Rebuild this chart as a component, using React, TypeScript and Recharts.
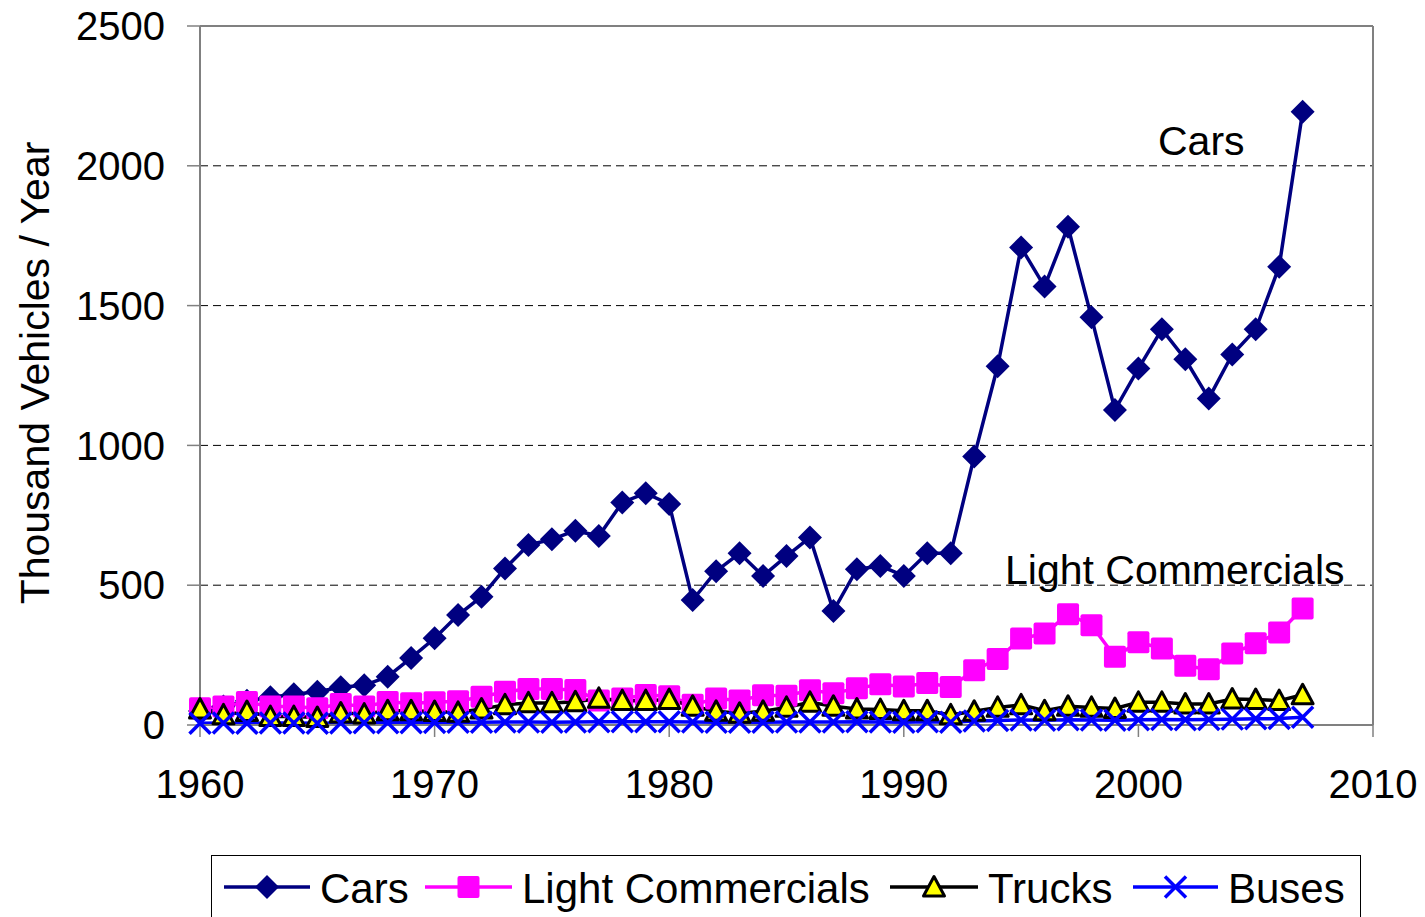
import React from 'react';
import { LineChart, Line, XAxis, YAxis, CartesianGrid, ReferenceLine } from 'recharts';

const years = [
  1960, 1961, 1962, 1963, 1964, 1965, 1966, 1967, 1968, 1969,
  1970, 1971, 1972, 1973, 1974, 1975, 1976, 1977, 1978, 1979,
  1980, 1981, 1982, 1983, 1984, 1985, 1986, 1987, 1988, 1989,
  1990, 1991, 1992, 1993, 1994, 1995, 1996, 1997, 1998, 1999,
  2000, 2001, 2002, 2003, 2004, 2005, 2006, 2007,
];

const cars = [
  50, 66, 87, 99, 110, 119, 135, 142, 173, 240,
  310, 393, 459, 560, 644, 664, 695, 676, 796, 829,
  790, 447, 550, 614, 533, 604, 671, 408, 557, 569,
  533, 614, 614, 960, 1283, 1708, 1568, 1782, 1458, 1127,
  1275, 1415, 1308, 1168, 1325, 1415, 1639, 2193,
];

const lightCommercials = [
  60, 66, 82, 66, 66, 60, 75, 66, 82, 78,
  81, 85, 101, 119, 129, 129, 125, 88, 95, 107,
  103, 72, 95, 88, 106, 105, 124, 114, 131, 146,
  138, 150, 136, 196, 236, 309, 327, 396, 357, 244,
  296, 274, 212, 199, 256, 292, 331, 417,
];

const trucks = [
  57, 36, 48, 30, 30, 27, 43, 39, 51, 51,
  48, 45, 57, 72, 79, 79, 83, 95, 87, 87,
  91, 67, 49, 42, 49, 63, 81, 67, 57, 55,
  51, 51, 36, 49, 63, 72, 51, 67, 63, 59,
  81, 81, 75, 75, 93, 91, 87, 108,
];

const buses = [
  6, 7, 6, 7, 7, 6, 7, 8, 8, 8,
  9, 10, 10, 11, 11, 10, 11, 12, 12, 12,
  12, 11, 10, 10, 10, 11, 11, 11, 12, 11,
  10, 12, 10, 14, 16, 18, 17, 19, 18, 17,
  19, 20, 19, 20, 21, 22, 23, 28,
];

const xTicks = [1960, 1970, 1980, 1990, 2000, 2010];
const yTicks = [0, 500, 1000, 1500, 2000, 2500];
const seriesNames = ['Cars', 'Light Commercials', 'Trucks', 'Buses'];
const yTitle = 'Thousand Vehicles / Year';

const data = years.map((year, i) => ({
  year,
  cars: cars[i],
  lc: lightCommercials[i],
  trucks: trucks[i],
  buses: buses[i],
}));

const FONT = '"Liberation Sans", Arial, sans-serif';
const NAVY = '#000080';
const PINK = '#FF00FF';
const BLUE = '#0000FF';

const diamond = (cx: number, cy: number, s = 12) => (
  <path d={`M${cx},${cy - s} L${cx + s},${cy} L${cx},${cy + s} L${cx - s},${cy} Z`} fill={NAVY} />
);
const square = (cx: number, cy: number, s = 11) => (
  <rect x={cx - s} y={cy - s} width={2 * s} height={2 * s} rx={2} fill={PINK} />
);
const triangle = (cx: number, cy: number, s = 10.5) => (
  <path
    d={`M${cx},${cy - s} L${cx + s},${cy + s * 0.85} L${cx - s},${cy + s * 0.85} Z`}
    fill="#FFFF00"
    stroke="#000"
    strokeWidth={3}
    strokeLinejoin="round"
  />
);
const cross = (cx: number, cy: number, s = 10.5) => (
  <path
    d={`M${cx - s},${cy - s} L${cx + s},${cy + s} M${cx + s},${cy - s} L${cx - s},${cy + s}`}
    stroke={BLUE}
    strokeWidth={3.5}
    fill="none"
  />
);

const makeDot = (fn: (cx: number, cy: number) => React.ReactElement) => (props: any) => {
  const { cx, cy, index } = props;
  if (cx == null || cy == null) return <g key={`d-${index}`} />;
  return <g key={`d-${index}`}>{fn(cx, cy)}</g>;
};

const legendItems = [
  { name: seriesNames[0], color: NAVY, marker: diamond, x1: 224, x2: 310, tx: 320 },
  { name: seriesNames[1], color: PINK, marker: square, x1: 425, x2: 512, tx: 522 },
  { name: seriesNames[2], color: '#000', marker: triangle, x1: 890, x2: 978, tx: 988 },
  { name: seriesNames[3], color: BLUE, marker: cross, x1: 1133, x2: 1218, tx: 1228 },
];

export default function App() {
  return (
    <div
      style={{
        position: 'relative',
        width: 1425,
        height: 917,
        margin: '-8px 0 0 -8px',
        overflow: 'hidden',
        background: '#fff',
        fontFamily: FONT,
      }}
    >
      <LineChart
        width={1425}
        height={917}
        data={data}
        margin={{ top: 26, right: 52, bottom: 132, left: 100 }}
      >
        <CartesianGrid vertical={false} stroke="#000" strokeDasharray="8 5" strokeWidth={1} />
        <XAxis
          dataKey="year"
          type="number"
          domain={[1960, 2010]}
          ticks={xTicks}
          height={60}
          axisLine={{ stroke: '#808080', strokeWidth: 2 }}
          tickLine={{ stroke: '#808080', strokeWidth: 1.5 }}
          tickSize={12}
          tickMargin={33}
          tick={{ fill: '#000', fontSize: 40, fontFamily: FONT }}
          interval={0}
        />
        <YAxis
          type="number"
          domain={[0, 2500]}
          ticks={yTicks}
          width={100}
          axisLine={{ stroke: '#808080', strokeWidth: 2 }}
          tickLine={{ stroke: '#808080', strokeWidth: 1.5 }}
          tickSize={13}
          tickMargin={22}
          tick={{ fill: '#000', fontSize: 40, fontFamily: FONT }}
          interval={0}
        />
        <ReferenceLine y={2500} stroke="#808080" strokeWidth={2} />
        <ReferenceLine x={2010} stroke="#808080" strokeWidth={2} />
        <Line
          dataKey="cars"
          name={seriesNames[0]}
          stroke={NAVY}
          strokeWidth={3.5}
          dot={makeDot((cx, cy) => diamond(cx, cy))}
          activeDot={false}
          isAnimationActive={false}
        />
        <Line
          dataKey="lc"
          name={seriesNames[1]}
          stroke={PINK}
          strokeWidth={3.5}
          dot={makeDot((cx, cy) => square(cx, cy))}
          activeDot={false}
          isAnimationActive={false}
        />
        <Line
          dataKey="trucks"
          name={seriesNames[2]}
          stroke="#000"
          strokeWidth={3.5}
          dot={makeDot((cx, cy) => triangle(cx, cy))}
          activeDot={false}
          isAnimationActive={false}
        />
        <Line
          dataKey="buses"
          name={seriesNames[3]}
          stroke={BLUE}
          strokeWidth={3.5}
          dot={makeDot((cx, cy) => cross(cx, cy))}
          activeDot={false}
          isAnimationActive={false}
        />
      </LineChart>
      <svg
        width={1425}
        height={917}
        style={{ position: 'absolute', left: 0, top: 0, pointerEvents: 'none' }}
      >
        <text
          x={49}
          y={373}
          transform="rotate(-90 49 373)"
          textAnchor="middle"
          fontSize={41}
          fontFamily={FONT}
          fill="#000"
        >
          {yTitle}
        </text>
        <text x={1158} y={155} fontSize={41} fontFamily={FONT} fill="#000">
          {seriesNames[0]}
        </text>
        <text x={1005} y={584} fontSize={41} fontFamily={FONT} fill="#000">
          {seriesNames[1]}
        </text>
        <rect x={211.5} y={855.5} width={1149} height={80} fill="#fff" stroke="#000" strokeWidth={1} />
        {legendItems.map((it) => (
          <g key={it.name}>
            <line x1={it.x1} x2={it.x2} y1={887} y2={887} stroke={it.color} strokeWidth={3.5} />
            {it.marker((it.x1 + it.x2) / 2, 887)}
            <text x={it.tx} y={903} fontSize={42} fontFamily={FONT} fill="#000">
              {it.name}
            </text>
          </g>
        ))}
      </svg>
    </div>
  );
}
